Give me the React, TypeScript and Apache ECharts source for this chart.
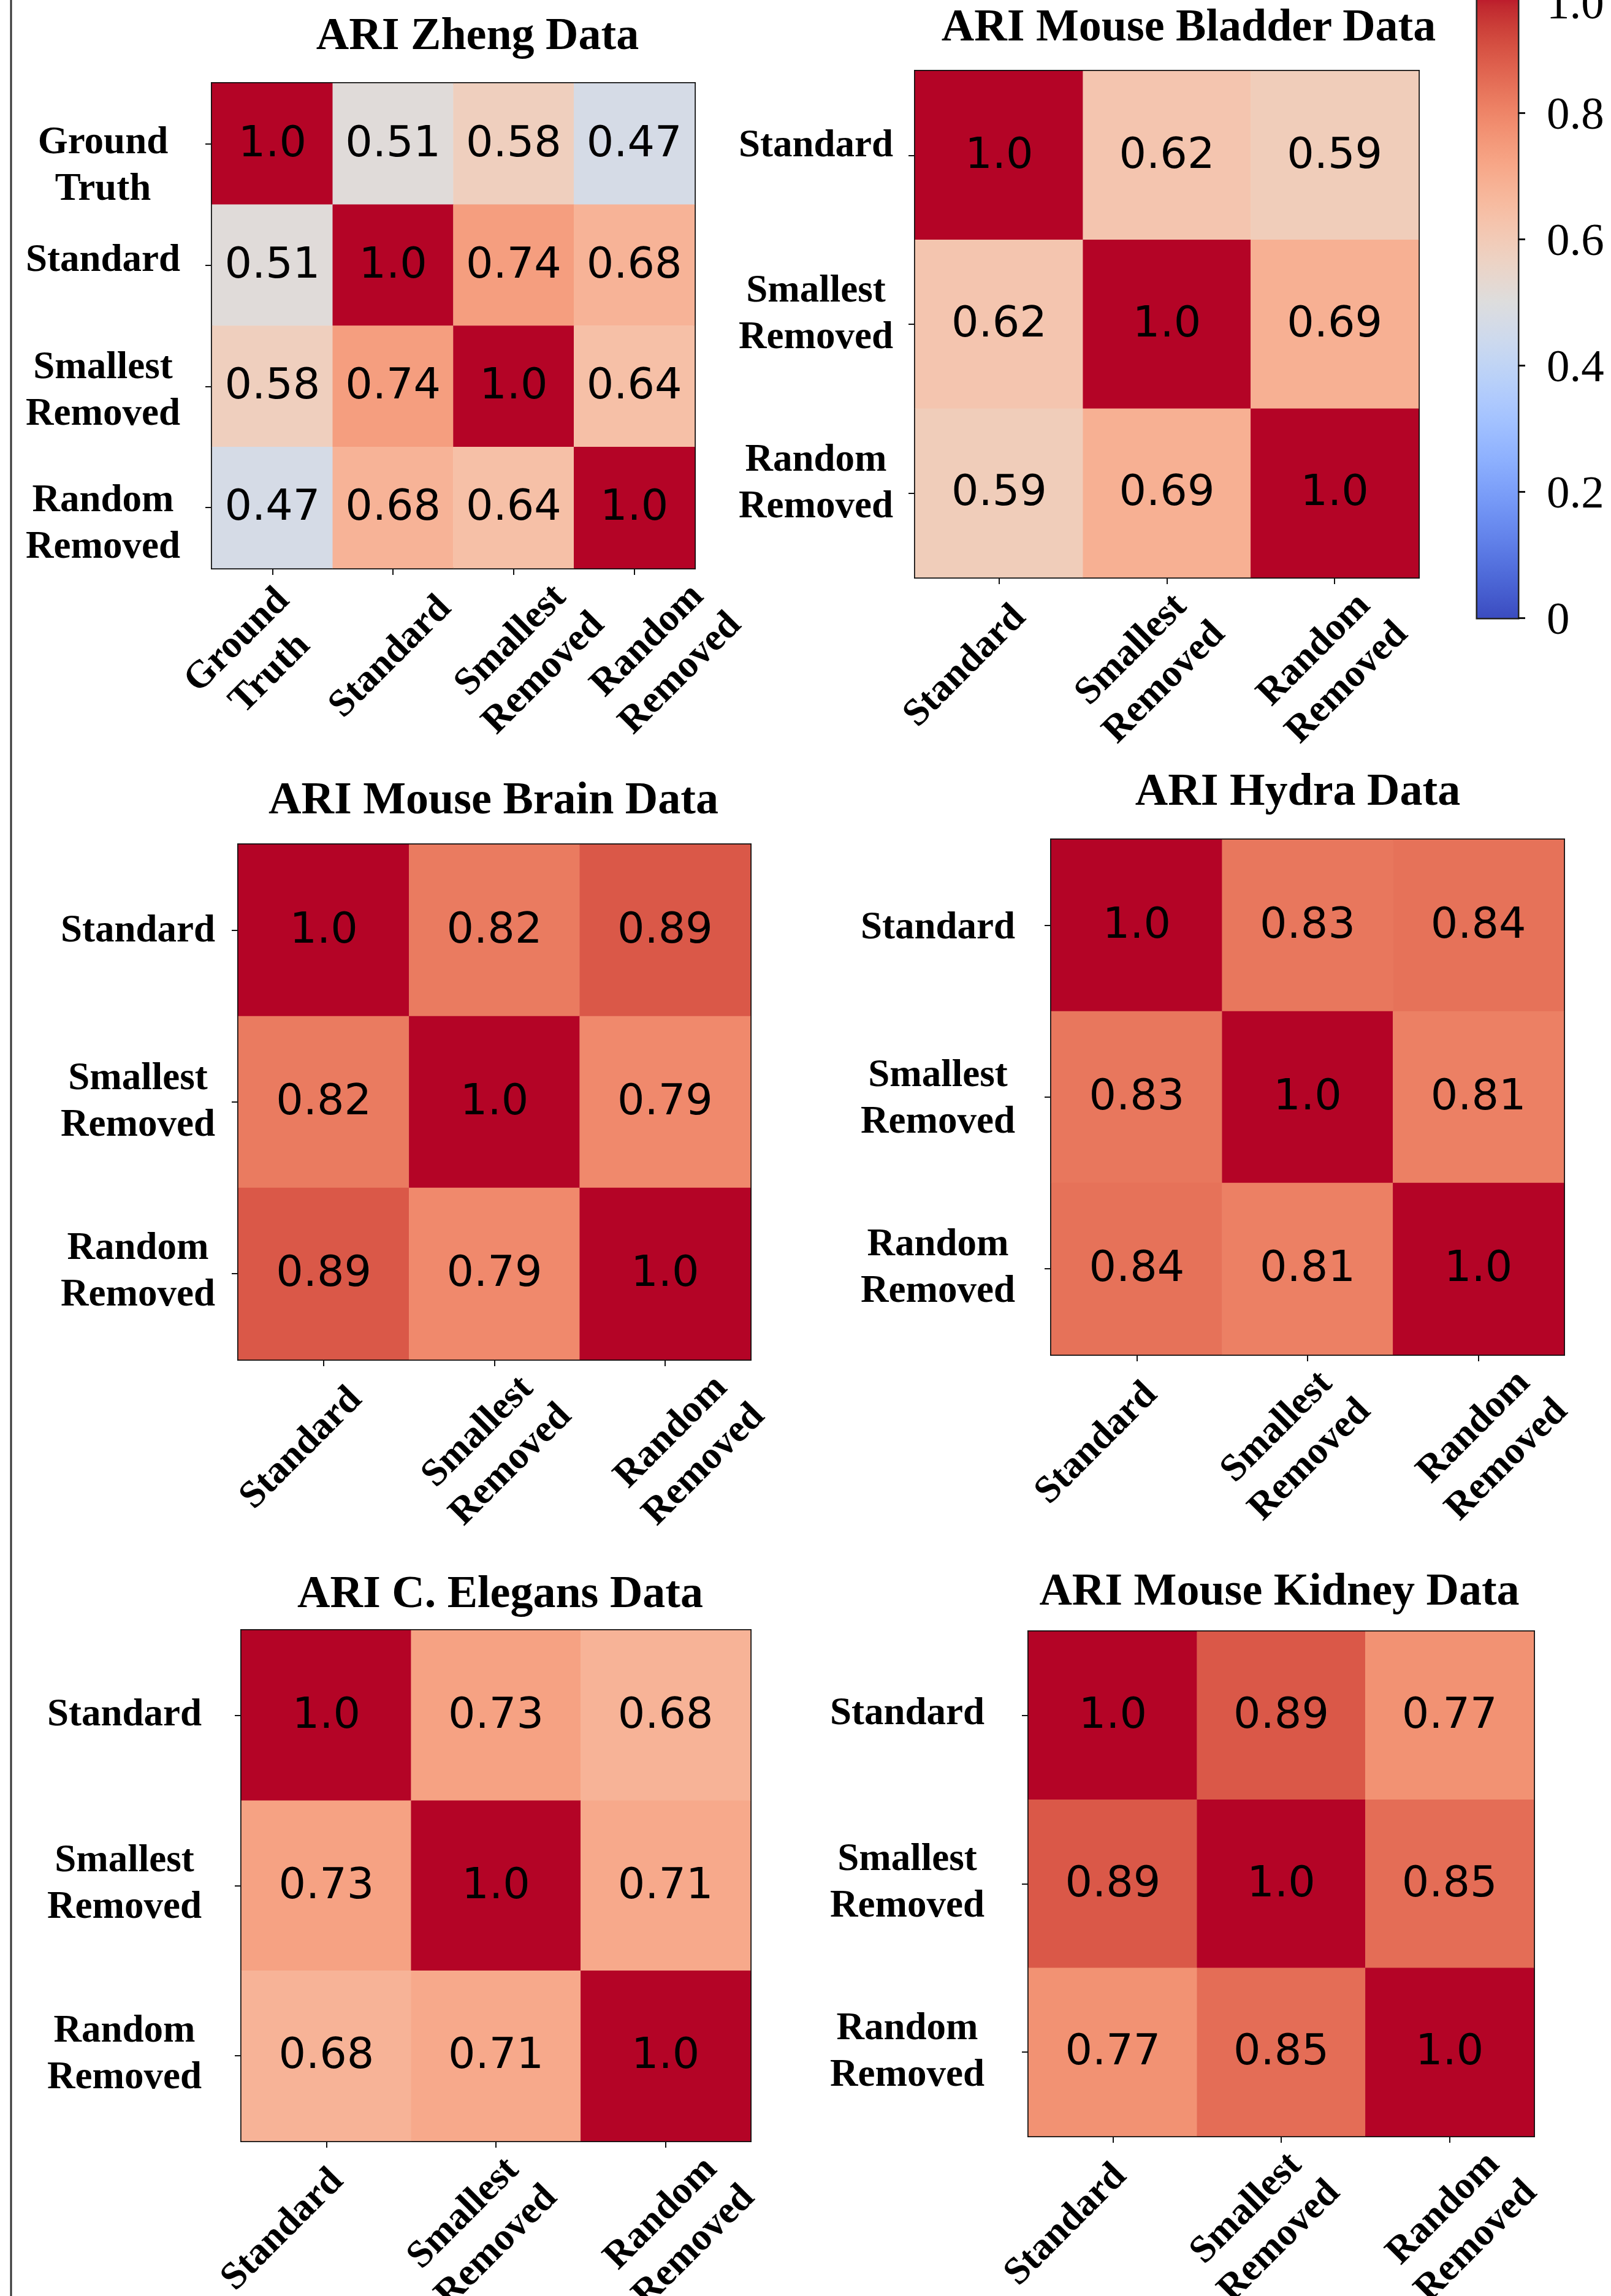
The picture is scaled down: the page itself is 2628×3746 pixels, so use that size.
import React, { useEffect, useRef } from 'react';
import * as echarts from 'echarts';

// ---------------- DATA ----------------
const zhengCategories = ['Ground\nTruth', 'Standard', 'Smallest\nRemoved', 'Random\nRemoved'];
const methodCategories = ['Standard', 'Smallest\nRemoved', 'Random\nRemoved'];

const zhengValues = [
  [1.0, 0.51, 0.58, 0.47],
  [0.51, 1.0, 0.74, 0.68],
  [0.58, 0.74, 1.0, 0.64],
  [0.47, 0.68, 0.64, 1.0],
];
const bladderValues = [
  [1.0, 0.62, 0.59],
  [0.62, 1.0, 0.69],
  [0.59, 0.69, 1.0],
];
const brainValues = [
  [1.0, 0.82, 0.89],
  [0.82, 1.0, 0.79],
  [0.89, 0.79, 1.0],
];
const hydraValues = [
  [1.0, 0.83, 0.84],
  [0.83, 1.0, 0.81],
  [0.84, 0.81, 1.0],
];
const elegansValues = [
  [1.0, 0.73, 0.68],
  [0.73, 1.0, 0.71],
  [0.68, 0.71, 1.0],
];
const kidneyValues = [
  [1.0, 0.89, 0.77],
  [0.89, 1.0, 0.85],
  [0.77, 0.85, 1.0],
];

const panelTitles = [
  'ARI Zheng Data',
  'ARI Mouse Bladder Data',
  'ARI Mouse Brain Data',
  'ARI Hydra Data',
  'ARI C. Elegans Data',
  'ARI Mouse Kidney Data',
];
const panelCategories = [
  zhengCategories,
  methodCategories,
  methodCategories,
  methodCategories,
  methodCategories,
  methodCategories,
];
const panelValues = [zhengValues, bladderValues, brainValues, hydraValues, elegansValues, kidneyValues];

const colorbarMin = 0;
const colorbarMax = 1;
const colorbarStep = 0.2;

// matplotlib "coolwarm" colormap stops (0 -> 1)
const coolwarm = [
  '#3b4cc0', '#445acc', '#4d68d7', '#5775e1', '#6282ea', '#6c8ef1', '#779af7', '#82a5fb',
  '#8db0fe', '#98b9ff', '#a3c2ff', '#aec9fd', '#b8d0f9', '#c2d5f4', '#ccd9ee', '#d5dbe6',
  '#dddddd', '#e5d8d1', '#ecd3c5', '#f1ccb9', '#f5c4ad', '#f7bba0', '#f7b194', '#f7a687',
  '#f49a7b', '#f18d6f', '#ec7f63', '#e57058', '#de604d', '#d55042', '#cb3e38', '#c0282f',
  '#b40426',
];

// ---------------- LAYOUT ----------------
const W = 2628;
const H = 3746;
const layouts = [
  { left: 346, top: 136, width: 787, height: 791, titleX: 779, titleY: 55, yMargin: 178, yDy: [32, -12, 4, 23], spread: 0.134, shift: 6 },
  { left: 1493, top: 116, width: 821, height: 826, titleX: 1939, titleY: 41, yMargin: 162, yDy: [-20, -20, -19], spread: 0.09, shift: -34 },
  { left: 389, top: 1378, width: 835, height: 840, titleX: 805, titleY: 1302, yMargin: 164, yDy: [-3, -4, -7], spread: 0.132, shift: -3 },
  { left: 1715, top: 1370, width: 836, height: 840, titleX: 2117, titleY: 1288, yMargin: 185, yDy: [0, -1, -5], spread: 0.153, shift: -26 },
  { left: 394, top: 2660, width: 830, height: 833, titleX: 816, titleY: 2597, yMargin: 191, yDy: [-5, -7, -6], spread: 0.164, shift: -29 },
  { left: 1678, top: 2662, width: 824, height: 823, titleX: 2087, titleY: 2593, yMargin: 198, yDy: [-7, -6, -4], spread: 0.17, shift: -33 },
];
const colorbarLayout = { left: 2410, top: -22, width: 66, height: 1030, topLabelDrop: 26 };

const SERIF = '"Liberation Serif", "Times New Roman", serif';
const SANS = '"DejaVu Sans", sans-serif';
const LABEL_SIZE = 63;
const LABEL_LINE = 76;
const CB_LABEL_SIZE = 75;

const labelFont = {
  fontFamily: SERIF,
  fontWeight: 'bold',
  fontSize: LABEL_SIZE,
  lineHeight: LABEL_LINE,
  color: '#000',
};

export default function App() {
  const ref = useRef<HTMLDivElement>(null);

  useEffect(() => {
    if (!ref.current) return;
    const chart = echarts.init(ref.current, null, { renderer: 'svg' });

    const n = layouts.length;
    const grids: any[] = [];
    const xAxes: any[] = [];
    const yAxes: any[] = [];
    const series: any[] = [];
    const graphics: any[] = [];

    // heatmap grids 0..n-1
    layouts.forEach((L, i) => {
      grids.push({
        left: L.left,
        top: L.top,
        width: L.width,
        height: L.height,
        show: true,
        borderColor: '#111',
        borderWidth: 4,
        backgroundColor: 'transparent',
        containLabel: false,
        outerBoundsMode: 'none',
      });
      xAxes.push({
        type: 'category',
        gridIndex: i,
        data: panelCategories[i],
        position: 'bottom',
        axisLine: { show: false },
        axisTick: { show: true, alignWithLabel: true, length: 11, lineStyle: { color: '#111', width: 2 } },
        axisLabel: { show: false },
        splitLine: { show: false },
      });

      // rich styles: text lines + per-row spacer that nudges the centred block up/down
      const rich: any = { t: { ...labelFont, align: 'center' } };
      L.yDy.forEach((d, k) => {
        const h = Math.max(2, Math.abs(d) * 2);
        rich['s' + k] = { fontSize: 2, height: h, lineHeight: h, align: 'center', color: 'transparent' };
      });
      yAxes.push({
        type: 'category',
        gridIndex: i,
        data: panelCategories[i],
        inverse: true,
        position: 'left',
        axisLine: { show: false },
        axisTick: { show: true, alignWithLabel: true, length: 11, lineStyle: { color: '#111', width: 2 } },
        axisLabel: {
          show: true,
          interval: 0,
          margin: L.yMargin,
          align: 'center',
          verticalAlign: 'middle',
          ...labelFont,
          rich,
          formatter: (value: string, idx: number) => {
            const body = String(value)
              .split('\n')
              .map((s) => `{t|${s}}`)
              .join('\n');
            const d = L.yDy[idx] || 0;
            if (Math.abs(d) < 1) return body;
            const sp = `{s${idx}| }`;
            return d > 0 ? `${sp}\n${body}` : `${body}\n${sp}`;
          },
        },
        splitLine: { show: false },
      });
      const data: any[] = [];
      panelValues[i].forEach((row, r) => row.forEach((v, c) => data.push([c, r, v])));
      series.push({
        type: 'heatmap',
        xAxisIndex: i,
        yAxisIndex: i,
        data,
        itemStyle: { borderWidth: 0 },
        emphasis: { disabled: true },
        label: {
          show: true,
          formatter: (p: any) => Number(p.value[2]).toPrecision(2),
          fontFamily: SANS,
          fontSize: 70,
          color: '#000',
          textBorderWidth: 0,
          offset: [0, -4],
        },
      });
      graphics.push({
        type: 'text',
        x: L.titleX,
        y: L.titleY,
        style: {
          text: panelTitles[i],
          fontFamily: SERIF,
          fontWeight: 'bold',
          fontSize: 74,
          fill: '#000',
          align: 'center',
          verticalAlign: 'middle',
        },
      });
    });

    // label grids n..2n-1 (x tick labels)
    layouts.forEach((L, i) => {
      const w = L.width * (1 + L.spread);
      grids.push({
        left: L.left + L.shift - (w - L.width) / 2,
        top: L.top,
        width: w,
        height: L.height,
        show: false,
        containLabel: false,
        outerBoundsMode: 'none',
      });
      xAxes.push({
        type: 'category',
        gridIndex: n + i,
        data: panelCategories[i],
        position: 'bottom',
        axisLine: { show: false },
        axisTick: { show: false },
        axisLabel: {
          show: true,
          interval: 0,
          rotate: 45,
          margin: 142,
          align: 'center',
          verticalAlign: 'middle',
          ...labelFont,
        },
        splitLine: { show: false },
      });
      yAxes.push({
        type: 'value',
        gridIndex: n + i,
        show: false,
      });
    });

    // colorbar grid
    const cbIndex = 2 * n;
    grids.push({
      left: colorbarLayout.left,
      top: colorbarLayout.top,
      width: colorbarLayout.width,
      height: colorbarLayout.height,
      show: true,
      borderColor: '#222',
      borderWidth: 5,
      backgroundColor: 'transparent',
      containLabel: false,
      outerBoundsMode: 'none',
    });
    xAxes.push({
      type: 'category',
      gridIndex: cbIndex,
      data: ['colorbar'],
      show: false,
    });
    const cbFont = { fontFamily: SERIF, fontSize: CB_LABEL_SIZE, color: '#000' };
    yAxes.push({
      type: 'value',
      gridIndex: cbIndex,
      min: colorbarMin,
      max: colorbarMax,
      interval: colorbarStep,
      position: 'right',
      axisLine: { show: false },
      axisTick: { show: true, length: 12, lineStyle: { color: '#111', width: 3 } },
      axisLabel: {
        show: true,
        margin: 47,
        ...cbFont,
        rich: {
          n: { ...cbFont },
          top: { ...cbFont, padding: [colorbarLayout.topLabelDrop * 2, 0, 0, 0] },
        },
        formatter: (v: number) => {
          if (v === 0) return '{n|0}';
          if (Math.abs(v - colorbarMax) < 1e-9) return `{top|${v.toFixed(1)}}`;
          return `{n|${v.toFixed(1)}}`;
        },
      },
      splitLine: { show: false },
    });
    const gradStops = coolwarm.map((c, k) => ({ offset: k / (coolwarm.length - 1), color: c }));
    series.push({
      type: 'bar',
      xAxisIndex: cbIndex,
      yAxisIndex: cbIndex,
      data: [colorbarMax],
      barWidth: '100%',
      barCategoryGap: '0%',
      silent: true,
      itemStyle: { color: new echarts.graphic.LinearGradient(0, 1, 0, 0, gradStops) },
    });

    // left rule
    graphics.push({
      type: 'line',
      shape: { x1: 18, y1: 0, x2: 18, y2: H },
      style: { stroke: '#333', lineWidth: 3 },
    });

    chart.setOption({
      animation: false,
      backgroundColor: '#ffffff',
      textStyle: { fontFamily: SERIF },
      grid: grids,
      xAxis: xAxes,
      yAxis: yAxes,
      visualMap: {
        type: 'continuous',
        min: colorbarMin,
        max: colorbarMax,
        show: false,
        dimension: 2,
        seriesIndex: layouts.map((_, i) => i),
        inRange: { color: coolwarm },
      },
      series,
      graphic: graphics,
    });

    return () => chart.dispose();
  }, []);

  return (
    <div
      ref={ref}
      style={{ position: 'absolute', left: 0, top: 0, width: W, height: H, background: '#fff' }}
    />
  );
}
